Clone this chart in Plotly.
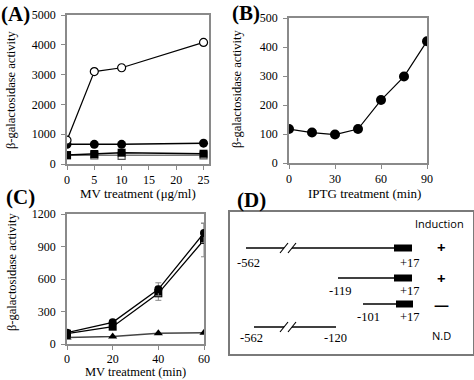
import plotly.graph_objects as go

W, H = 474, 380

# ---------------- data ----------------
# Panel A: MV treatment (ug/ml)
a_x = [0, 5, 10, 25]
a_open_circle = [800, 3100, 3230, 4080]
a_filled_circle = [660, 660, 660, 700]
a_filled_square = [300, 335, 380, 345]
a_open_square = [290, 290, 270, 290]

# Panel B: IPTG treatment (min)
b_x = [0, 15, 30, 45, 60, 75, 90]
b_y = [117, 105, 98, 117, 217, 298, 420]

# Panel C: MV treatment (min)
c_x = [0, 20, 40, 60]
c_circle = [105, 200, 505, 1025]
c_circle_err = [15, 20, 60, 90]
c_square = [95, 160, 468, 960]
c_square_err = [15, 25, 65, 155]
c_triangle = [60, 70, 100, 105]

# Panel D: promoter constructs
d_start_labels = ["-562", "-119", "-101", "-562"]
d_end_labels = ["+17", "+17", "+17", "-120"]
d_induction = ["+", "+", "\u2014", "N.D"]

SERIF = "Liberation Serif, Times New Roman, serif"
SANS = "Open Sans, sans-serif"
GRAY = "#8a8a8a"

fig = go.Figure()


def px_x(p):
    return p / W


def px_y(p):
    return 1 - p / H


# ---------------- Panel A ----------------
fig.add_trace(go.Scatter(x=a_x, y=a_open_square, mode="lines+markers",
                         line=dict(color="#777777", width=1.5),
                         marker=dict(symbol="square", size=7, color="white",
                                     line=dict(color="#555555", width=1.2)),
                         xaxis="x", yaxis="y"))
fig.add_trace(go.Scatter(x=a_x, y=a_filled_square, mode="lines+markers",
                         line=dict(color="black", width=1.5),
                         marker=dict(symbol="square", size=8, color="black"),
                         xaxis="x", yaxis="y"))
fig.add_trace(go.Scatter(x=a_x, y=a_filled_circle, mode="lines+markers",
                         line=dict(color="black", width=1.5),
                         marker=dict(symbol="circle", size=9, color="black"),
                         xaxis="x", yaxis="y"))
fig.add_trace(go.Scatter(x=a_x, y=a_open_circle, mode="lines+markers",
                         line=dict(color="black", width=1.2),
                         marker=dict(symbol="circle", size=8, color="white",
                                     line=dict(color="black", width=1.2)),
                         xaxis="x", yaxis="y"))

# ---------------- Panel B ----------------
fig.add_trace(go.Scatter(x=b_x, y=b_y, mode="lines+markers",
                         line=dict(color="black", width=1.2),
                         marker=dict(symbol="circle", size=10, color="black"),
                         xaxis="x2", yaxis="y2"))

# ---------------- Panel C ----------------
fig.add_trace(go.Scatter(x=c_x, y=c_triangle, mode="lines+markers",
                         line=dict(color="#444444", width=1.5),
                         marker=dict(symbol="triangle-up", size=8, color="black"),
                         xaxis="x3", yaxis="y3"))
fig.add_trace(go.Scatter(x=c_x, y=c_square, mode="lines+markers",
                         line=dict(color="black", width=1.3),
                         error_y=dict(type="data", array=c_square_err, color=GRAY,
                                      thickness=1, width=3),
                         marker=dict(symbol="square", size=8, color="black"),
                         xaxis="x3", yaxis="y3"))
fig.add_trace(go.Scatter(x=c_x, y=c_circle, mode="lines+markers",
                         line=dict(color="black", width=1.3),
                         error_y=dict(type="data", array=c_circle_err, color=GRAY,
                                      thickness=1, width=3),
                         marker=dict(symbol="circle", size=8, color="black"),
                         xaxis="x3", yaxis="y3"))

# ---------------- Panel D (schematic, own axis in diagram units) ----------------
line_y = [36, 66, 92, 115]
line_x0 = [16, 108, 133, 24]
line_x1 = [164, 164, 166, 106]
box_x0 = [164, 164, 166, None]
box_x1 = [182, 182, 183, None]
has_break = [True, False, False, True]
start_lbl_x = [18, 110, 138, 21]
end_lbl_x = [180, 180, 180, 105]
lbl_dy = [15, 13, 13, 11]
ind_y = [35, 66, 92, 123]

for i in range(4):
    yv = line_y[i]
    if has_break[i]:
        segs = [(line_x0[i], 54), (62, line_x1[i])]
    else:
        segs = [(line_x0[i], line_x1[i])]
    for s0, s1 in segs:
        fig.add_trace(go.Scatter(x=[s0, s1], y=[yv, yv], mode="lines",
                                 line=dict(color="black", width=1.5),
                                 xaxis="x4", yaxis="y4"))
    if has_break[i]:
        for sx in (50, 58):
            fig.add_trace(go.Scatter(x=[sx, sx + 8], y=[yv + 5, yv - 5], mode="lines",
                                     line=dict(color="black", width=1.2),
                                     xaxis="x4", yaxis="y4"))
    if box_x0[i] is not None:
        fig.add_trace(go.Scatter(x=[box_x0[i], box_x1[i]], y=[yv, yv], mode="lines",
                                 line=dict(color="black", width=7),
                                 xaxis="x4", yaxis="y4"))
    fig.add_annotation(x=start_lbl_x[i], y=yv + lbl_dy[i], xref="x4", yref="y4",
                       text=d_start_labels[i], showarrow=False,
                       font=dict(family=SERIF, size=12.5, color="black"))
    fig.add_annotation(x=end_lbl_x[i], y=yv + lbl_dy[i], xref="x4", yref="y4",
                       text=d_end_labels[i], showarrow=False,
                       font=dict(family=SERIF, size=12.5, color="black"))
    isz = 11 if d_induction[i] == "N.D" else 15
    ind_txt = d_induction[i] if d_induction[i] == "N.D" else f"<b>{d_induction[i]}</b>"
    fig.add_annotation(x=211, y=ind_y[i], xref="x4", yref="y4",
                       text=ind_txt, showarrow=False,
                       font=dict(family=SANS, size=isz, color="black"))

fig.add_annotation(x=209, y=12, xref="x4", yref="y4", text="Induction",
                   showarrow=False, font=dict(family=SANS, size=11, color="black"))

# ---------------- axes ----------------
common = dict(showline=True, mirror=True, linecolor=GRAY, linewidth=1.5,
              ticks="outside", ticklen=4, tickcolor=GRAY, tickwidth=1,
              showgrid=False, zeroline=False, automargin=False,
              tickfont=dict(family=SERIF, size=12, color="black"))
ycommon = dict(common, ticklabelstandoff=3)
xcommon3 = dict(common, ticklabelstandoff=-1)

fig.update_layout(
    width=W, height=H,
    margin=dict(l=0, r=0, t=0, b=0),
    paper_bgcolor="white", plot_bgcolor="white",
    showlegend=False,
    xaxis=dict(domain=[px_x(67), px_x(209)], range=[0, 26], tickvals=[0, 5, 10, 15, 20, 25],
               anchor="y", **common),
    yaxis=dict(domain=[px_y(164), px_y(15)], range=[0, 5000], dtick=1000,
               anchor="x", **ycommon),
    xaxis2=dict(domain=[px_x(289), px_x(427)], range=[0, 90], tickvals=[0, 30, 60, 90],
                anchor="y2", **common),
    yaxis2=dict(domain=[px_y(163), px_y(18)], range=[0, 500], dtick=100,
                anchor="x2", **ycommon),
    xaxis3=dict(domain=[px_x(67), px_x(204)], range=[0, 60], tickvals=[0, 20, 40, 60],
                anchor="y3", **xcommon3),
    yaxis3=dict(domain=[px_y(344), px_y(214)], range=[0, 1200], dtick=300,
                anchor="x3", **ycommon),
    xaxis4=dict(domain=[px_x(230), px_x(473)], range=[0, 243], anchor="y4",
                showline=True, mirror=True, linecolor="#7a7a7a", linewidth=2,
                showticklabels=False, ticks="", showgrid=False, zeroline=False),
    yaxis4=dict(domain=[px_y(354), px_y(212)], range=[142, 0], anchor="x4",
                showline=True, mirror=True, linecolor="#7a7a7a", linewidth=2,
                showticklabels=False, ticks="", showgrid=False, zeroline=False),
)

# ---------------- titles / panel labels ----------------
def ann(text, x, y, size=13, family=SERIF, angle=0, bold=False):
    fig.add_annotation(x=px_x(x), y=px_y(y), xref="paper", yref="paper",
                       text=f"<b>{text}</b>" if bold else text, showarrow=False,
                       textangle=angle, xanchor="center", yanchor="middle",
                       font=dict(family=family, size=size, color="black"))

ann("(A)", 16, 14, size=21, bold=True)
ann("(B)", 246, 13, size=21, bold=True)
ann("(C)", 20, 197, size=21, bold=True)
ann("(D)", 251, 200, size=21, bold=True)

ann("\u03b2-galactosidase activity", 11, 90, size=12.5, angle=-90)
ann("\u03b2-galactosidase activity", 237, 89, size=12.5, angle=-90)
ann("\u03b2-galactosidase activity", 12, 272, size=12.5, angle=-90)

ann("MV treatment (\u03bcg/ml)", 138, 193)
ann("IPTG treatment (min)", 364, 193)
ann("MV treatment (min)", 135, 371.5, size=12.5)

fig.write_html("out.html",
               config={"displayModeBar": False},
               post_script="document.body.style.margin='0';document.body.style.padding='0';")
